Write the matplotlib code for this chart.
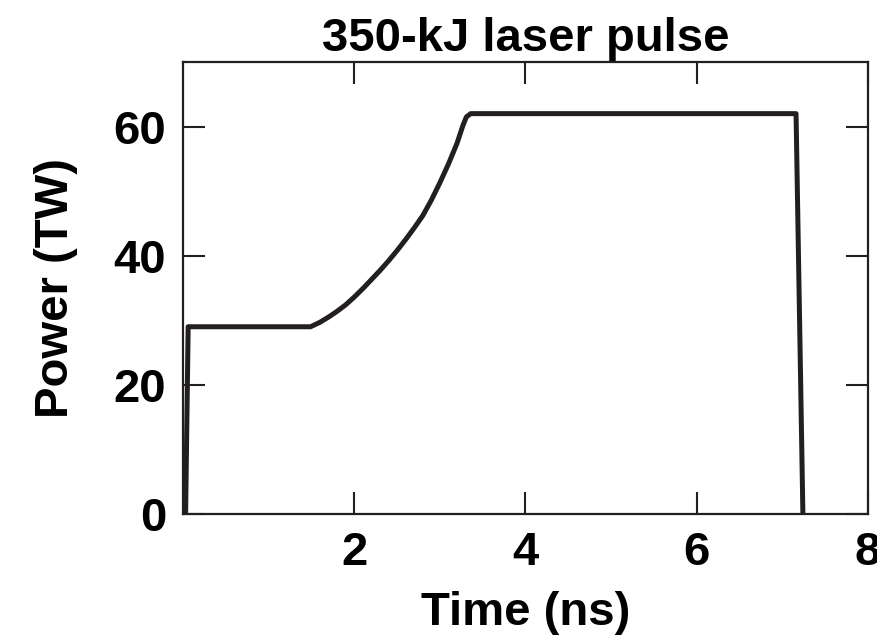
import matplotlib.pyplot as plt

plt.rcParams['font.family'] = ['Liberation Sans', 'DejaVu Sans']
plt.rcParams['font.weight'] = 'bold'

# pulse shape
time_ns = [0.03, 0.06, 1.49, 1.60, 1.70, 1.80, 1.90, 2.00, 2.10, 2.20, 2.30,
           2.40, 2.50, 2.60, 2.70, 2.80, 2.90, 3.00, 3.10, 3.20, 3.27, 3.31,
           3.36, 7.16, 7.24]
power_tw = [0.0, 29.0, 29.0, 29.7, 30.5, 31.4, 32.4, 33.6, 34.9, 36.3, 37.7,
            39.2, 40.8, 42.5, 44.3, 46.2, 48.6, 51.3, 54.2, 57.4, 60.2, 61.5,
            62.0, 62.0, 0.0]

xticks = [2, 4, 6, 8]
yticks = [0, 20, 40, 60]

fig = plt.figure(figsize=(8.77, 6.41), dpi=100)
ax = fig.add_axes([0.2087, 0.1981, 0.781, 0.7052])

ax.plot(time_ns, power_tw, color='#231f20', lw=3.6, solid_joinstyle='round')

ax.set_xlim(0, 8)
ax.set_ylim(0, 70)
ax.set_xticks(xticks)
ax.set_yticks(yticks)
ax.tick_params(direction='in', length=16, width=1.5, top=True, right=True,
               labelsize=34, pad=12, color='#231f20')
for s in ax.spines.values():
    s.set_linewidth(1.6)
    s.set_color('#231f20')

ax.set_xlabel('Time (ns)', fontsize=34, fontweight='bold', labelpad=12)
ax.set_ylabel('Power (TW)', fontsize=34, fontweight='bold', labelpad=26)
ax.set_title('350-kJ laser pulse', fontsize=34, fontweight='bold', pad=8)

fig.savefig('out.png', dpi=100)
